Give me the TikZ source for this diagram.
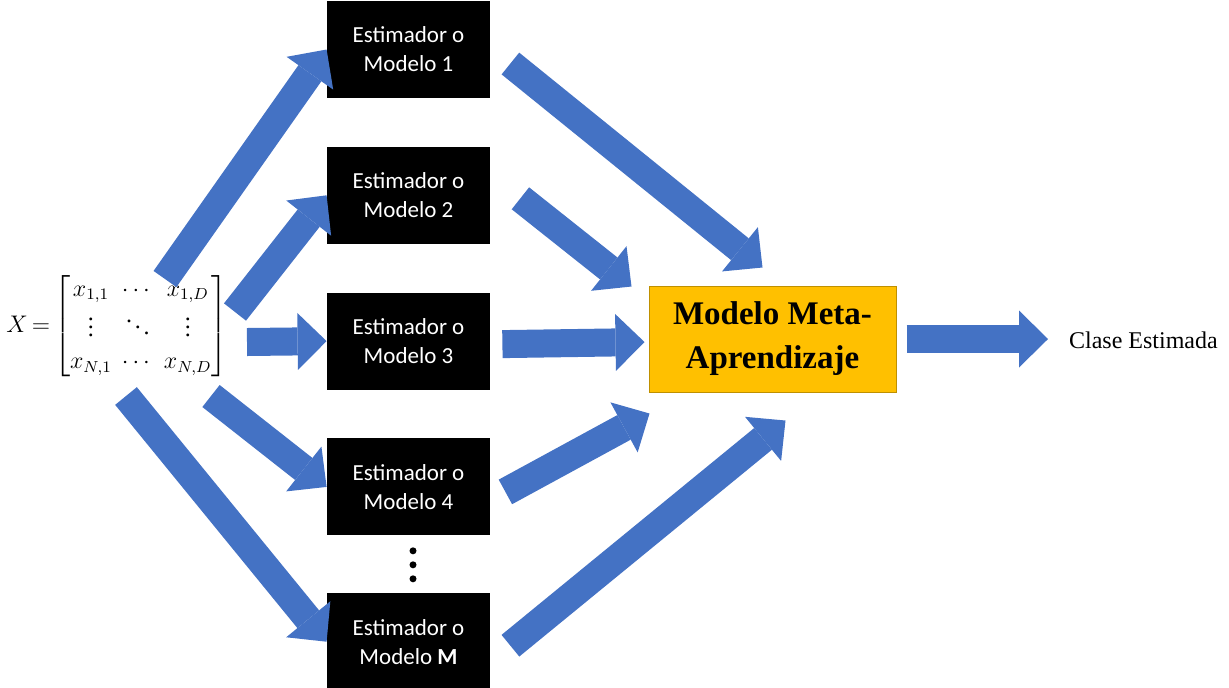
\documentclass[tikz,border=0pt]{standalone}
\usepackage{amsmath}
\usepackage{fontspec}
\setmainfont{Liberation Serif}
\newfontfamily\boxfont{Carlito}
\usetikzlibrary{arrows.meta,calc,positioning}

\definecolor{arrowblue}{HTML}{4472C4}
\definecolor{metaorange}{HTML}{FFC000}
\definecolor{metaborder}{HTML}{BF9000}

\begin{document}
\begin{tikzpicture}[x=0.5pt,y=-0.5pt,node distance=24pt,
   estim/.style={fill=black,text=white,minimum width=81.5pt,minimum height=48.5pt,
     inner sep=0pt,align=center,font=\boxfont\fontsize{11.5}{14.5}\selectfont},
   metabox/.style={fill=metaorange,draw=metaborder,line width=0.5pt,minimum width=123.5pt,
     minimum height=53pt,inner sep=0pt,align=center,font=\bfseries\fontsize{16.5}{22}\selectfont},
   blockarrow/.style={draw=arrowblue,line width=14pt,
     -{Triangle[length=14.5pt,width=28.5pt,line width=0pt]}}]
   \useasboundingbox (0,0) rectangle (1229,687);
   % estimadores
   \node[estim] (m1) at (408.5,49.5) {Estimador o\\Modelo 1};
   \node[estim] (m2) [below=of m1] {Estimador o\\Modelo 2};
   \node[estim] (m3) [below=of m2] {Estimador o\\Modelo 3};
   \node[estim] (m4) [below=of m3] {Estimador o\\Modelo 4};
   \node[estim] (mM) [below=28.5pt of m4] {Estimador o\\Modelo \textbf{M}};
   \foreach \d in {15,29,43}
     \fill ($(m4.south)+(4.5,\d)$) circle[radius=1.75pt];
   % entrada y salida
   \node[anchor=west,inner sep=0pt] (X) at (6,326) {\fontsize{12}{14}\selectfont
     \setlength{\arraycolsep}{2.5pt}\renewcommand{\arraystretch}{1.15}\thickmuskip=3mu
     $X=\begin{bmatrix} x_{1,1} & \cdots & x_{1,D}\\ \vdots & \ddots & \vdots\\
       x_{N,1} & \cdots & x_{N,D}\end{bmatrix}$};
   \node[metabox] (meta) at (772.5,339) {Modelo Meta-\\Aprendizaje};
   \node[anchor=west,font=\fontsize{12}{14}\selectfont] (clase) at (1062,340) {Clase Estimada};
   % flechas
   \coordinate (s1) at (165,279);
   \coordinate (s2) at (235,312);
   \coordinate (s3) at (247,342);
   \coordinate (s4) at (211,396);
   \coordinate (s5) at (126,396);
   \draw[blockarrow] (s1) -- (m1.west);
   \draw[blockarrow] (s2) -- (m2.west);
   \draw[blockarrow] (s3) -- (m3.west);
   \draw[blockarrow] (s4) -- (m4.west);
   \draw[blockarrow] (s5) -- (mM.west);
   \draw[blockarrow] ($(m1.east)+(20,14)$) -- ($(meta.north)+(-10,-18)$);
   \draw[blockarrow] ($(m2.east)+(30,3)$) -- ($(meta.north west)+(-17,1)$);
   \draw[blockarrow] ($(m3.east)+(12,3)$) -- ($(meta.west)+(-4,3)$);
   \draw[blockarrow] ($(m4.east)+(15,5)$) -- ($(meta.south west)+(1,21)$);
   \draw[blockarrow] ($(mM.east)+(20,4)$) -- ($(meta.south)+(13,28)$);
   \draw[blockarrow] ($(meta.east)+(10,0)$) -- ($(clase.west)+(-14,-1)$);
\end{tikzpicture}
\end{document}
